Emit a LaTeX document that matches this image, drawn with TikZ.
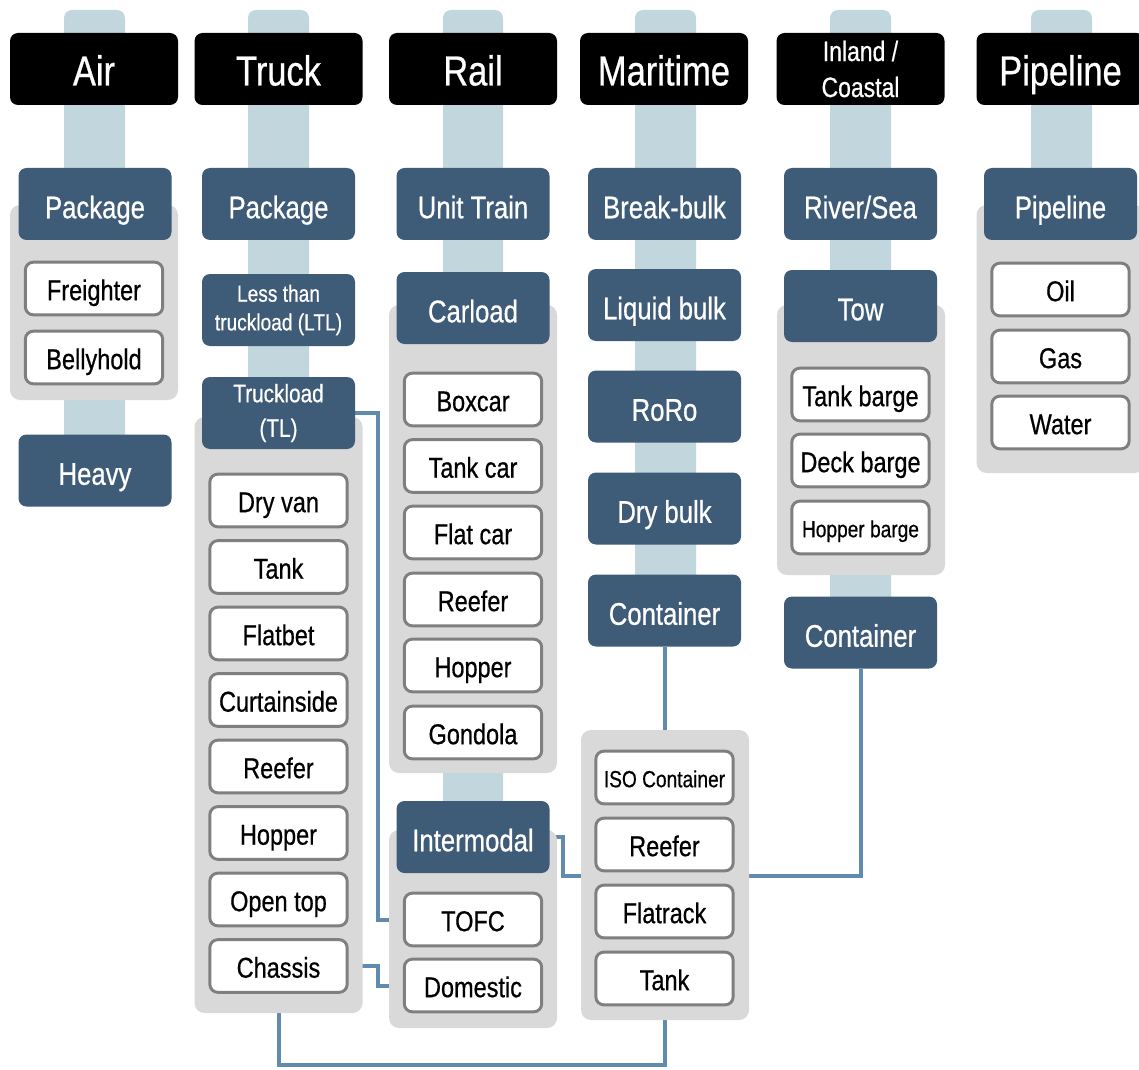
\documentclass[tikz,border=0pt]{standalone}
\usepackage{fontspec}
\setmainfont{Liberation Sans}[FakeStretch=0.82,FakeBold=0.6]
\definecolor{darkbox}{RGB}{62,91,120}
\definecolor{pillarc}{RGB}{194,214,222}
\definecolor{panelc}{RGB}{217,217,217}
\definecolor{connc}{RGB}{96,138,176}
\definecolor{borderc}{RGB}{127,127,127}
\pgfdeclarelayer{pil}
\pgfdeclarelayer{connl}
\pgfsetlayers{pil,connl,main}
\begin{document}
\begin{tikzpicture}[x=0.75pt,y=-0.75pt,
  header/.style={fill=black, rounded corners=6pt, text=white, align=center,
    minimum width=126pt, minimum height=54pt, inner sep=0pt,
    font=\fontsize{31.5}{33}\selectfont},
  hfix/.style={text height=26pt, text depth=1.3pt},
  headersm/.style={header, font=\fontsize{21}{27}\selectfont},
  dbox/.style={fill=darkbox, rounded corners=6pt, text=white, align=center,
    minimum width=114.75pt, minimum height=54pt, inner sep=0pt,
    font=\fontsize{23.5}{25}\selectfont},
  dfix/.style={text height=23pt, text depth=1.6pt},
  dboxsm/.style={dbox, font=\fontsize{17.5}{21.5}\selectfont},
  wbox/.style={fill=white, draw=borderc, line width=2.2pt, rounded corners=6pt,
    minimum width=103pt, minimum height=39.5pt, inner sep=0pt, align=center,
    font=\fontsize{21.5}{22}\selectfont, text height=19pt, text depth=1.5pt},
  wboxsm/.style={wbox, font=\fontsize{17.5}{20}\selectfont, text height=16pt, text depth=1.4pt},
  panel/.style={fill=panelc, rounded corners=7.5pt, inner sep=0pt, minimum width=126pt},
  pillar/.style={fill=pillarc, rounded corners=6pt},
  conn/.style={draw=connc, line width=3pt}]
\useasboundingbox (0,0) rectangle (1139,1070);

% panels
\node[panel, minimum height=146.25pt] (airp) at (94,302.5) {};
\node[panel, minimum height=447pt] (truckp) at (278.5,715) {};
\node[panel, minimum height=351pt] (railp1) at (473,539) {};
\node[panel, minimum height=148.5pt] (railp2) at (473,929) {};
\node[panel, minimum height=217.5pt] (marp) at (665,875) {};
\node[panel, minimum height=202.5pt] (inlp) at (861,440) {};
\node[panel, minimum height=201pt] (pipp) at (1060.5,339) {};

% headers
\node[header, hfix] (hair) at (94,69) {Air};
\node[header, hfix] (htruck) at (278.5,69) {Truck};
\node[header, hfix] (hrail) at (473,69) {Rail};
\node[header, hfix] (hmar) at (664,69) {Maritime};
\node[headersm] (hinl) at (860.5,69) {Inland /\\Coastal};
\node[header, hfix] (hpip) at (1060.5,69) {Pipeline};

% Air
\node[dbox, dfix] (apack) at (95,204) {Package};
\node[wbox] (freighter) at (94,288.5) {Freighter};
\node[wbox] (belly) at (94,357.5) {Bellyhold};
\node[dbox, dfix] (heavy) at (95,470.5) {Heavy};

% Truck
\node[dbox, dfix] (tpack) at (278.5,204) {Package};
\node[dboxsm] (ltl) at (278.5,310) {Less than\\truckload (LTL)};
\node[dboxsm, font=\fontsize{19}{26}\selectfont] (tl) at (278.5,413) {Truckload\\(TL)};
\node[wbox] (dryvan) at (278.5,500.5) {Dry van};
\node[wbox] (ttank) at (278.5,567) {Tank};
\node[wbox] (flatbet) at (278.5,633.5) {Flatbet};
\node[wbox] (curtain) at (278.5,700) {Curtainside};
\node[wbox] (treefer) at (278.5,766.5) {Reefer};
\node[wbox] (thopper) at (278.5,833) {Hopper};
\node[wbox] (opentop) at (278.5,899.5) {Open top};
\node[wbox] (chassis) at (278.5,966) {Chassis};

% Rail
\node[dbox, dfix] (unit) at (473,204) {Unit Train};
\node[dbox, dfix] (carload) at (473,308) {Carload};
\node[wbox] (boxcar) at (473,399.5) {Boxcar};
\node[wbox] (tankcar) at (473,466) {Tank car};
\node[wbox] (flatcar) at (473,532.5) {Flat car};
\node[wbox] (rreefer) at (473,599.5) {Reefer};
\node[wbox] (rhopper) at (473,665.5) {Hopper};
\node[wbox] (gondola) at (473,732.5) {Gondola};
\node[dbox, dfix] (im) at (473,837) {Intermodal};
\node[wbox] (tofc) at (473,919.5) {TOFC};
\node[wbox] (dom) at (473,985.5) {Domestic};

% Maritime
\node[dbox, dfix] (breakb) at (664.5,204) {Break-bulk};
\node[dbox, dfix] (liquid) at (664.5,305) {Liquid bulk};
\node[dbox, dfix] (roro) at (664.5,406.5) {RoRo};
\node[dbox, dfix] (drybulk) at (664.5,508.5) {Dry bulk};
\node[dbox, dfix] (mcont) at (664.5,610.5) {Container};
\node[wboxsm] (iso) at (664.5,777.5) {ISO Container};
\node[wbox] (mreefer) at (664.5,844.5) {Reefer};
\node[wbox] (flatrack) at (664.5,911.5) {Flatrack};
\node[wbox] (mtank) at (664.5,978.5) {Tank};

% Inland
\node[dbox, dfix] (river) at (860.5,204) {River/Sea};
\node[dbox, dfix] (tow) at (860.5,306) {Tow};
\node[wbox] (tankb) at (860.5,394.5) {Tank barge};
\node[wbox] (deckb) at (860.5,460.5) {Deck barge};
\node[wboxsm] (hopperb) at (860.5,527.5) {Hopper barge};
\node[dbox, dfix] (icont) at (860.5,632.5) {Container};

% Pipeline
\node[dbox, dfix] (ppipe) at (1060.5,204) {Pipeline};
\node[wbox] (oil) at (1060.5,289.5) {Oil};
\node[wbox] (gas) at (1060.5,356.5) {Gas};
\node[wbox] (water) at (1060.5,422.5) {Water};

% pillars
\begin{pgfonlayer}{pil}
\fill[pillar] (64,10) rectangle (125,470);
\fill[pillar] (248,10) rectangle (309,411);
\fill[pillar] (443,10) rectangle (503,837);
\fill[pillar] (635,10) rectangle (696,610);
\fill[pillar] (830,10) rectangle (891,632);
\fill[pillar] (1031,10) rectangle (1092,300);
\end{pgfonlayer}

% connectors
\coordinate (imb) at (563,876);
\coordinate (bot) at (0,1065);
\begin{pgfonlayer}{connl}
\draw[conn] (tl.east) -- ++(23,0) |- (tofc.west);
\draw[conn] (chassis.east) -- ++(29,0) |- (dom.west);
\draw[conn] (im.east) -| (imb) -| (icont.south);
\draw[conn] (mcont.south) -- (mcont.south |- marp.north);
\draw[conn] (chassis.south) -- (chassis.south |- bot) -| (marp.south);
\end{pgfonlayer}
\end{tikzpicture}
\end{document}
